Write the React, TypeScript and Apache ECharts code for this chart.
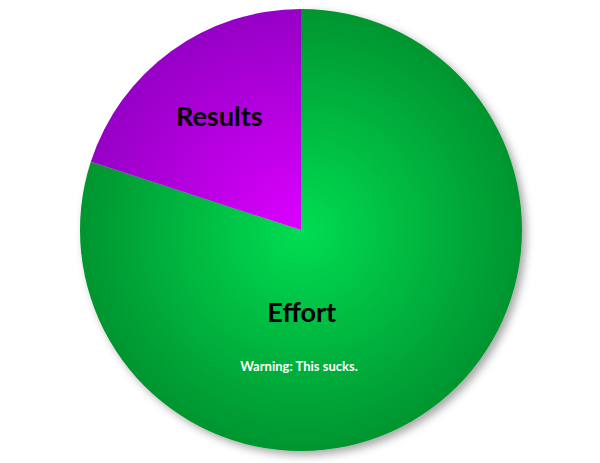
import React, { useEffect, useRef } from "react";
import * as echarts from "echarts";

const categories = ["Effort", "Results"];
const values = [80, 20];
const note = "Warning: This sucks.";

export default function App() {
  const ref = useRef<HTMLDivElement>(null);
  useEffect(() => {
    document.body.style.margin = "0";
    const chart = echarts.init(ref.current!, null, { renderer: "svg" });
    const cx = 301, cy = 230, r = 221;
    const green = new echarts.graphic.RadialGradient(cx, cy, r, [
      { offset: 0, color: "#00dd52" },
      { offset: 1, color: "#00952f" },
    ], true);
    const purple = new echarts.graphic.RadialGradient(cx, cy, r, [
      { offset: 0, color: "#dc00ff" },
      { offset: 1, color: "#9600c6" },
    ], true);
    const styles = [
      { color: green, shadowBlur: 8, shadowOffsetX: 4, shadowOffsetY: 4, shadowColor: "rgba(0,0,0,0.35)" },
      { color: purple },
    ];
    const offsets = [[-66, -10], [-15, -23]];
    chart.setOption({
      animation: false,
      series: [
        {
          type: "pie",
          center: [cx, cy],
          radius: r,
          startAngle: 90,
          clockwise: true,
          silent: true,
          label: {
            show: true,
            position: "inside",
            formatter: "{b}",
            fontFamily: "Lato",
            fontWeight: "bold",
            fontSize: 27,
            color: "#000",
          },
          labelLine: { show: false },
          data: categories.map((name, i) => ({
            name,
            value: values[i],
            itemStyle: styles[i],
            label: { offset: offsets[i] },
          })),
        },
      ],
      graphic: [
        {
          type: "text",
          z: 100,
          x: 299,
          y: 366,
          style: {
            text: note,
            fill: "#ffffff",
            font: "bold 13px Lato",
            align: "center",
            verticalAlign: "middle",
          },
        },
      ],
    });
    return () => chart.dispose();
  }, []);
  return <div ref={ref} style={{ width: 600, height: 463 }} />;
}
